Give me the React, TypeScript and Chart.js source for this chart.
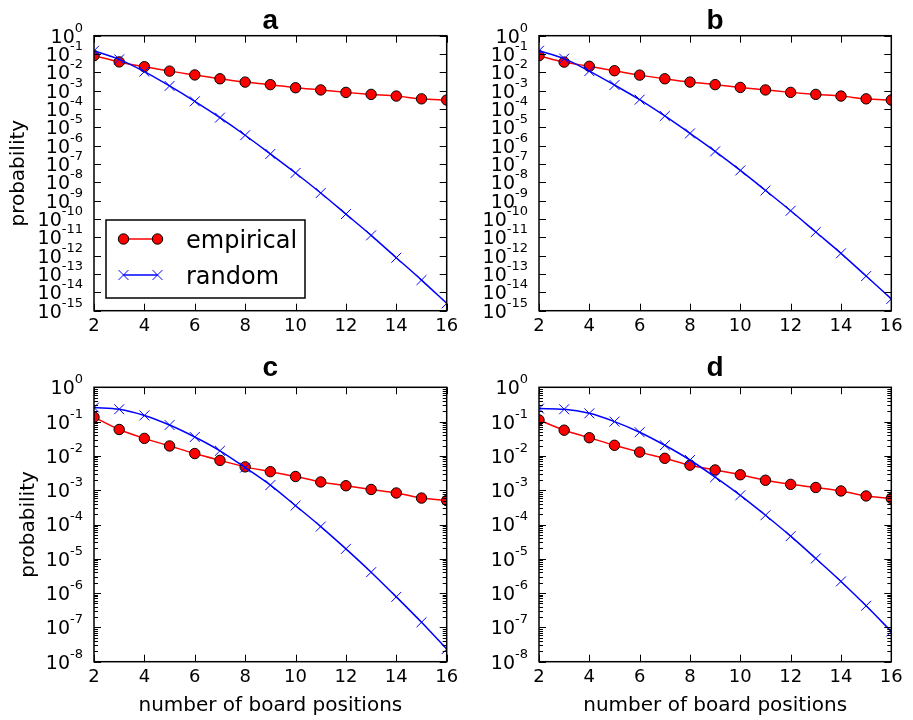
import React, { useEffect, useRef } from "react";
import { Chart, registerables } from "chart.js";

Chart.register(...registerables);

// ---------- data ----------
const positions = [2, 3, 4, 5, 6, 7, 8, 9, 10, 11, 12, 13, 14, 15, 16];
const xTickValues = [2, 4, 6, 8, 10, 12, 14, 16];
const exponentsAB = [0, -1, -2, -3, -4, -5, -6, -7, -8, -9, -10, -11, -12, -13, -14, -15];
const exponentsCD = [0, -1, -2, -3, -4, -5, -6, -7, -8];
const panelLabels = ["a", "b", "c", "d"];
const seriesNames = ["empirical", "random"];

const empiricalA = [0.0813, 0.0372, 0.0204, 0.0117, 0.00724, 0.00447, 0.00295, 0.00214, 0.00145, 0.0011, 8.1e-4, 6.3e-4, 5.1e-4, 3.6e-4, 3.1e-4];
const randomA = [0.151, 0.0513, 0.011, 1.82e-3, 2.63e-4, 3.39e-5, 3.72e-6, 3.55e-7, 3.24e-8, 2.63e-9, 1.86e-10, 1.29e-11, 7.76e-13, 4.68e-14, 2.51e-15];

const empiricalB = [0.0813, 0.0363, 0.0214, 0.0123, 0.00708, 0.00447, 0.00295, 0.00214, 0.00151, 0.0011, 8.1e-4, 6.3e-4, 5.1e-4, 3.6e-4, 3.1e-4];
const randomB = [0.151, 0.0562, 0.0117, 2.04e-3, 3.24e-4, 4.17e-5, 4.68e-6, 4.9e-7, 4.47e-8, 3.63e-9, 2.82e-10, 1.95e-11, 1.35e-12, 7.76e-14, 4.37e-15];

const empiricalC = [0.135, 0.0589, 0.0324, 0.0195, 0.0117, 0.00741, 0.00479, 0.00347, 0.00251, 0.00174, 0.00135, 0.00105, 8.3e-4, 5.9e-4, 5.0e-4];
const randomC = [0.257, 0.229, 0.151, 0.0794, 0.0355, 0.0141, 0.00457, 0.00141, 3.55e-4, 8.7e-5, 1.95e-5, 4.07e-6, 7.76e-7, 1.41e-7, 2.34e-8];

const empiricalD = [0.112, 0.0562, 0.0339, 0.0204, 0.0129, 0.00851, 0.00537, 0.00389, 0.00282, 0.00195, 0.00148, 0.0012, 9.5e-4, 6.8e-4, 5.75e-4];
const randomD = [0.24, 0.229, 0.174, 0.1, 0.049, 0.0204, 0.00759, 0.0024, 7.08e-4, 1.86e-4, 4.57e-5, 1.02e-5, 2.19e-6, 4.27e-7, 7.59e-8];

const xTitle = "number of board positions";
const yTitle = "probability";

// ---------- layout / style ----------
const W = 913;
const H = 720;
const FONT = "'DejaVu Sans', sans-serif";
const TITLE_FONT = "bold 28px 'Liberation Sans', Arial, sans-serif";
const X_AXIS_H = 30;

type Panel = {
  label: string;
  empirical: number[];
  random: number[];
  exps: number[];
  area: { l: number; t: number; r: number; b: number };
  titleBaseline: number;
  yTitleX: number | null;
  xTitleBaseline: number | null;
  legend: boolean;
  minor: boolean;
};

const panels: Panel[] = [
  { label: panelLabels[0], empirical: empiricalA, random: randomA, exps: exponentsAB, area: { l: 94, t: 35.7, r: 446.7, b: 310.7 }, titleBaseline: 29.3, yTitleX: 23.5, xTitleBaseline: null, legend: true, minor: false },
  { label: panelLabels[1], empirical: empiricalB, random: randomB, exps: exponentsAB, area: { l: 539, t: 35.7, r: 891.3, b: 310.7 }, titleBaseline: 29.3, yTitleX: null, xTitleBaseline: null, legend: false, minor: false },
  { label: panelLabels[2], empirical: empiricalC, random: randomC, exps: exponentsCD, area: { l: 94, t: 387.3, r: 446.7, b: 661.7 }, titleBaseline: 375.7, yTitleX: 33.5, xTitleBaseline: 711, legend: false, minor: true },
  { label: panelLabels[3], empirical: empiricalD, random: randomD, exps: exponentsCD, area: { l: 539, t: 387.3, r: 891.3, b: 661.7 }, titleBaseline: 375.7, yTitleX: null, xTitleBaseline: 711, legend: false, minor: true },
];

const figurePlugin = {
  id: "figure",
  afterDatasetsDraw(chart: any, _args: any, o: any) {
    const ctx: CanvasRenderingContext2D = chart.ctx;
    const { left, right, top, bottom } = chart.chartArea;
    const xs = chart.scales.x;
    const ys = chart.scales.y;
    const p: Panel = o.panel;
    ctx.save();
    ctx.strokeStyle = "#000";
    ctx.lineWidth = 1;
    ctx.beginPath();
    for (const t of xs.ticks) {
      const px = Math.round(xs.getPixelForValue(t.value)) + 0.5;
      ctx.moveTo(px, bottom);
      ctx.lineTo(px, bottom - 7);
      ctx.moveTo(px, top);
      ctx.lineTo(px, top + 7);
    }
    for (const t of ys.ticks) {
      const py = Math.round(ys.getPixelForValue(t.value)) + 0.5;
      ctx.moveTo(left, py);
      ctx.lineTo(left + 7, py);
      ctx.moveTo(right, py);
      ctx.lineTo(right - 7, py);
    }
    if (p.minor) {
      const minE = Math.min(...p.exps);
      const maxE = Math.max(...p.exps);
      for (let e = minE; e < maxE; e++) {
        for (let k = 2; k <= 9; k++) {
          const py = Math.round(ys.getPixelForValue(k * Math.pow(10, e))) + 0.5;
          ctx.moveTo(left, py);
          ctx.lineTo(left + 4, py);
          ctx.moveTo(right, py);
          ctx.lineTo(right - 4, py);
        }
      }
    }
    ctx.stroke();
    ctx.lineWidth = 1.5;
    ctx.strokeRect(left, top, right - left, bottom - top);

    // y tick labels 10^e
    ctx.fillStyle = "#000";
    ctx.textBaseline = "alphabetic";
    ctx.textAlign = "left";
    const labelRight = left - 11;
    for (const t of ys.ticks) {
      const e = Math.round(Math.log10(t.value));
      const py = ys.getPixelForValue(t.value);
      const sup = String(e);
      ctx.font = `13px ${FONT}`;
      const supW = ctx.measureText(sup).width;
      ctx.font = `19px ${FONT}`;
      const baseW = ctx.measureText("10").width;
      const base = py + 6.9;
      ctx.fillText("10", labelRight - supW - baseW, base);
      ctx.font = `13px ${FONT}`;
      ctx.fillText(sup, labelRight - supW, base - 11);
    }

    // panel title
    ctx.font = TITLE_FONT;
    ctx.textAlign = "center";
    ctx.fillText(p.label, (left + right) / 2, p.titleBaseline);

    // axis titles
    ctx.font = `20px ${FONT}`;
    if (p.xTitleBaseline !== null) {
      ctx.fillText(xTitle, (left + right) / 2, p.xTitleBaseline);
    }
    if (p.yTitleX !== null) {
      ctx.save();
      ctx.translate(p.yTitleX, (top + bottom) / 2);
      ctx.rotate(-Math.PI / 2);
      ctx.fillText(yTitle, 0, 0);
      ctx.restore();
    }

    // legend
    if (p.legend) {
      const bx = 106, by = 220, bw = 199, bh = 78;
      ctx.fillStyle = "#fff";
      ctx.fillRect(bx, by, bw, bh);
      ctx.lineWidth = 1.5;
      ctx.strokeStyle = "#000";
      ctx.strokeRect(bx, by, bw, bh);
      const rows = [239, 275];
      chart.data.datasets.forEach((ds: any, i: number) => {
        const y = rows[i];
        const x1 = 123.5, x2 = 157.5;
        ctx.strokeStyle = ds.borderColor;
        ctx.lineWidth = ds.borderWidth;
        ctx.beginPath();
        ctx.moveTo(x1, y);
        ctx.lineTo(x2, y);
        ctx.stroke();
        for (const x of [x1, x2]) {
          if (ds.pointStyle === "circle") {
            ctx.beginPath();
            ctx.arc(x, y, ds.pointRadius, 0, Math.PI * 2);
            ctx.fillStyle = ds.pointBackgroundColor;
            ctx.fill();
            ctx.lineWidth = ds.pointBorderWidth;
            ctx.strokeStyle = ds.pointBorderColor;
            ctx.stroke();
          } else {
            const d = ds.pointRadius * Math.SQRT1_2;
            ctx.beginPath();
            ctx.moveTo(x - d, y - d);
            ctx.lineTo(x + d, y + d);
            ctx.moveTo(x - d, y + d);
            ctx.lineTo(x + d, y - d);
            ctx.lineWidth = ds.pointBorderWidth;
            ctx.strokeStyle = ds.pointBorderColor;
            ctx.stroke();
          }
        }
        ctx.fillStyle = "#000";
        ctx.font = `24px ${FONT}`;
        ctx.textAlign = "left";
        ctx.fillText(ds.label, 186, y + 9);
      });
    }
    ctx.restore();
  },
};

function PanelChart({ panel }: { panel: Panel }) {
  const ref = useRef<HTMLCanvasElement | null>(null);
  useEffect(() => {
    if (!ref.current) return;
    const a = panel.area;
    const minExp = Math.min(...panel.exps);
    const maxExp = Math.max(...panel.exps);
    const chart = new Chart(ref.current, {
      type: "line",
      data: {
        datasets: [
          {
            label: seriesNames[0],
            data: positions.map((x, i) => ({ x, y: panel.empirical[i] })),
            borderColor: "#ff0000",
            borderWidth: 1.5,
            pointStyle: "circle",
            pointRadius: 5.2,
            pointBackgroundColor: "#ff0000",
            pointBorderColor: "#000000",
            pointBorderWidth: 1,
            cubicInterpolationMode: "monotone",
            fill: false,
            order: 1,
          },
          {
            label: seriesNames[1],
            data: positions.map((x, i) => ({ x, y: panel.random[i] })),
            borderColor: "#0000ff",
            borderWidth: 1.5,
            pointStyle: "crossRot",
            pointRadius: 7,
            pointBackgroundColor: "#0000ff",
            pointBorderColor: "#0000ff",
            pointBorderWidth: 1,
            cubicInterpolationMode: "monotone",
            fill: false,
            order: 0,
          },
        ] as any,
      },
      options: {
        animation: false,
        responsive: false,
        devicePixelRatio: 1,
        events: [],
        layout: {
          padding: { left: a.l, top: a.t, right: W - a.r, bottom: H - a.b - X_AXIS_H },
        },
        scales: {
          x: {
            type: "linear",
            min: positions[0],
            max: positions[positions.length - 1],
            grid: { display: false, drawTicks: false },
            border: { display: false },
            afterBuildTicks: (s: any) => {
              s.ticks = xTickValues.map((v) => ({ value: v }));
            },
            afterFit: (s: any) => {
              s.height = X_AXIS_H;
            },
            ticks: {
              autoSkip: false,
              maxRotation: 0,
              padding: 5,
              color: "#000",
              font: { family: FONT, size: 18 },
              callback: (v: any) => String(v),
            },
          },
          y: {
            type: "logarithmic",
            min: Math.pow(10, minExp),
            max: Math.pow(10, maxExp),
            grid: { display: false, drawTicks: false },
            border: { display: false },
            ticks: { display: false },
            afterBuildTicks: (s: any) => {
              s.ticks = panel.exps.map((e) => ({ value: Math.pow(10, e) }));
            },
            afterFit: (s: any) => {
              s.width = 0;
            },
          },
        },
        plugins: {
          legend: { display: false },
          title: { display: false },
          tooltip: { enabled: false },
          figure: { panel },
        } as any,
      },
      plugins: [figurePlugin],
    });
    return () => chart.destroy();
  }, [panel]);
  return (
    <canvas
      ref={ref}
      width={W}
      height={H}
      style={{ position: "absolute", left: 0, top: 0, width: W, height: H }}
    />
  );
}

export default function App() {
  return (
    <div style={{ position: "absolute", left: 0, top: 0, width: W, height: H, background: "#fff" }}>
      {panels.map((p) => (
        <PanelChart key={p.label} panel={p} />
      ))}
    </div>
  );
}
